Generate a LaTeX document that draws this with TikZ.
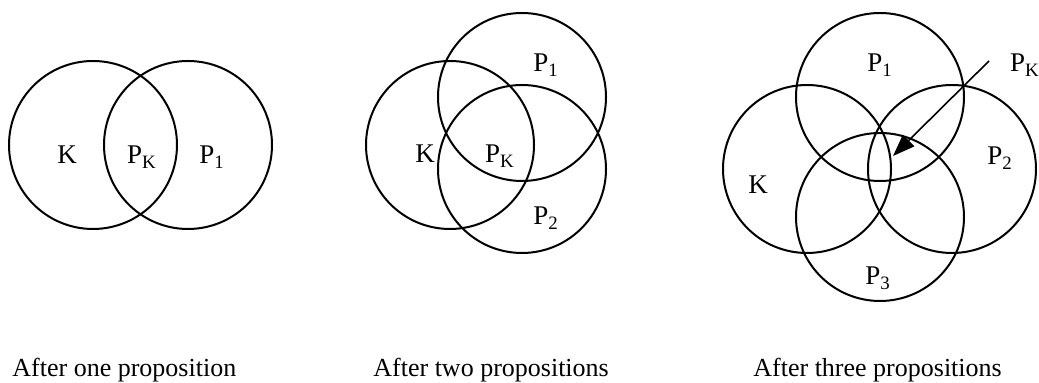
\documentclass[tikz,border=0pt]{standalone}
\usepackage{fontspec}
\setmainfont{Liberation Serif}
\usetikzlibrary{arrows.meta}
\begin{document}
\begin{tikzpicture}[x=0.5pt,y=-0.5pt,
  venn/.style={draw,circle,line width=1pt,minimum size=84pt,inner sep=0pt},
  lbl/.style={anchor=base,inner sep=0pt,font=\fontsize{13.5}{16}\selectfont},
  capt/.style={anchor=base west,inner sep=0pt,font=\fontsize{13}{16}\selectfont}]
  \useasboundingbox (0,0) rectangle (1039,383);
  % after one proposition
  \node[venn] (ka) at (93,145) {};
  \node[venn] (pa1) at (188,145) {};
  \node[lbl] (lka) at (67,164) {K};
  \node[lbl] (lpka) at (142,164) {P\textsubscript{K}};
  \node[lbl] (lpa1) at (212,164) {P\textsubscript{1}};
  \node[capt] (capa) at (12,377) {After one proposition};
  % after two propositions
  \node[venn] (kb) at (450,145) {};
  \node[venn] (pb1) at (522,97) {};
  \node[venn] (pb2) at (522,169) {};
  \node[lbl] (lpb1) at (546,72) {P\textsubscript{1}};
  \node[lbl] (lkb) at (425,163) {K};
  \node[lbl] (lpkb) at (500,163) {P\textsubscript{K}};
  \node[lbl] (lpb2) at (546,225) {P\textsubscript{2}};
  \node[capt] (capb) at (373,377) {After two propositions};
  % after three propositions
  \node[venn] (pc1) at (880,97) {};
  \node[venn] (kc) at (807,169) {};
  \node[venn] (pc2) at (952,169) {};
  \node[venn] (pc3) at (880,217) {};
  \node[lbl] (lpc1) at (880,72) {P\textsubscript{1}};
  \node[lbl] (lpkc) at (1025,72) {P\textsubscript{K}};
  \node[lbl] (lpc2) at (1000,165) {P\textsubscript{2}};
  \node[lbl] (lkc) at (758,194) {K};
  \node[lbl] (lpc3) at (878,285) {P\textsubscript{3}};
  \coordinate (pkfrom) at (989,61);
  \coordinate (pkto) at (893,156);
  \draw[line width=0.8pt,-{Triangle[length=11pt,width=8pt]}] (pkfrom) -- (pkto);
  \node[capt] (capc) at (753,377) {After three propositions};
\end{tikzpicture}
\end{document}
